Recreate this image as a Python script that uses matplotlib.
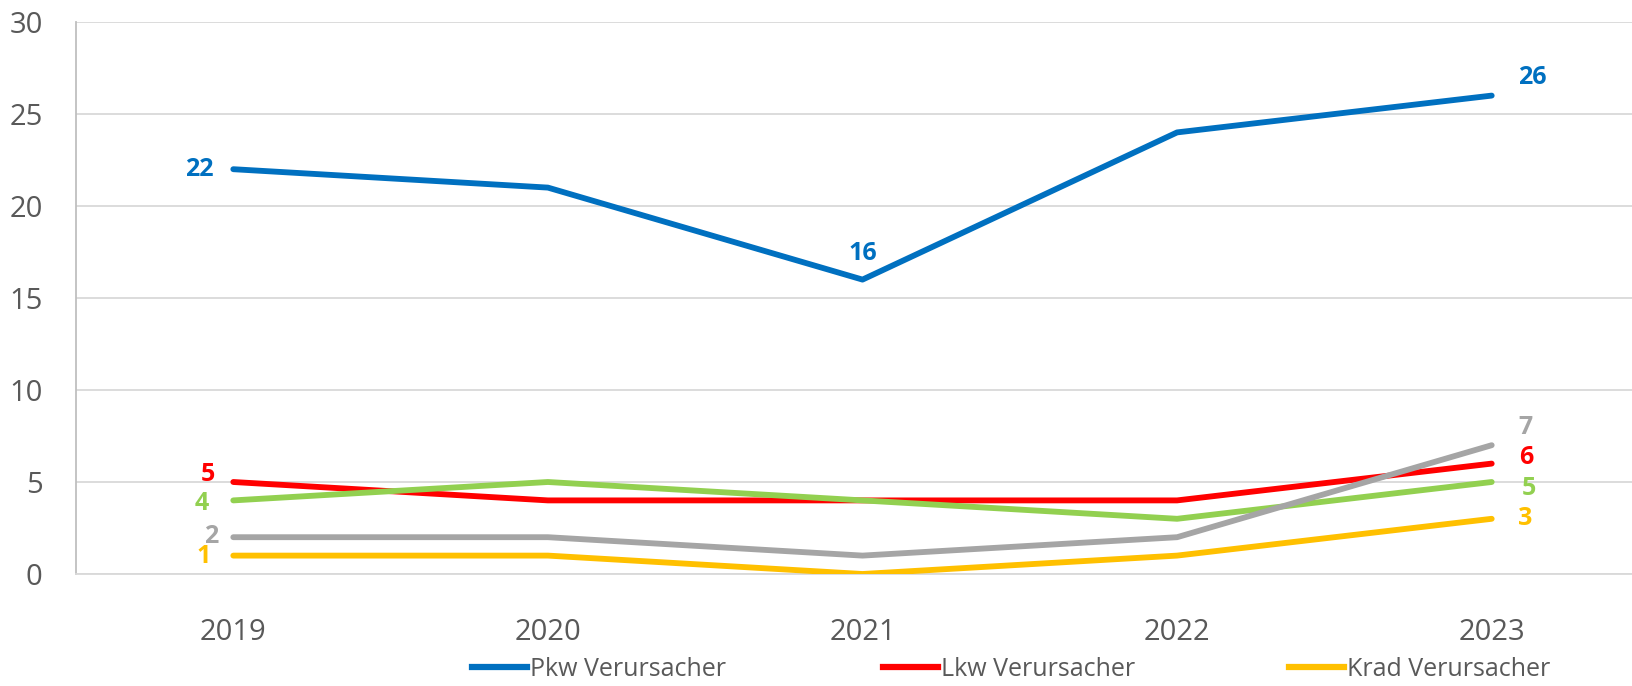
import matplotlib
matplotlib.use("Agg")
import matplotlib.pyplot as plt
from matplotlib.lines import Line2D

plt.rcParams['font.family'] = ['Open Sans', 'DejaVu Sans']

# Daten
jahre = ['2019', '2020', '2021', '2022', '2023']
pkw = [22, 21, 16, 24, 26]
lkw = [5, 4, 4, 4, 6]
krad = [1, 1, 0, 1, 3]
gruen = [4, 5, 4, 3, 5]
grau = [2, 2, 1, 2, 7]

serien = [
    ('Pkw Verursacher', pkw, '#0070C0'),
    ('Lkw Verursacher', lkw, '#FF0000'),
    ('Krad Verursacher', krad, '#FFC000'),
    ('Grün', gruen, '#92D050'),
    ('Grau', grau, '#A5A5A5'),
]

# Beschriftungs-Versatz (Pixel) fuer 2019 / 2021 / 2023
versatz = {
    'Pkw Verursacher': {0: (-20, 0, 'right'), 2: (0, 26, 'center'), 4: (41, 18, 'center')},
    'Lkw Verursacher': {0: (-25, 8, 'center'), 4: (35, 6, 'center')},
    'Krad Verursacher': {0: (-30, -1, 'center'), 4: (33, 0, 'center')},
    'Grün': {0: (-32, -3, 'center'), 4: (37, -6, 'center')},
    'Grau': {0: (-22, 1, 'center'), 4: (34, 18, 'center')},
}

fig = plt.figure(figsize=(16.33, 6.86), dpi=100)
ax = fig.add_axes([76 / 1633, 112 / 686, 1573 / 1633, 552 / 686])

x = range(len(jahre))
handles = {}
for name, werte, farbe in serien:
    ln, = ax.plot(x, werte, color=farbe, lw=4.2, solid_capstyle='round', zorder=3)
    handles[name] = ln
    for i, (dx, dy, ha) in versatz[name].items():
        ax.annotate(str(werte[i]), (i, werte[i]), xytext=(dx, dy),
                    textcoords='offset pixels', ha=ha, va='center',
                    color=farbe, fontsize=18, fontweight='bold')

ax.set_xlim(-0.5, 4.5)
ax.set_ylim(0, 30)
ax.set_yticks(range(0, 31, 5))
ax.set_xticks(list(x))
ax.set_xticklabels(jahre)
ax.grid(axis='y', color='#D9D9D9', lw=1.3)
ax.set_axisbelow(True)
for s in ['top', 'right']:
    ax.spines[s].set_visible(False)
ax.spines['left'].set_color('#BFBFBF')
ax.spines['bottom'].set_color('#D9D9D9')
ax.spines['left'].set_linewidth(1.3)
ax.spines['bottom'].set_linewidth(1.3)
ax.tick_params(length=0, labelsize=21, labelcolor='#595959')
ax.tick_params(axis='y', pad=24)
ax.tick_params(axis='x', pad=32)

# Legende (nur die sichtbaren Eintraege)
leg_x = [472, 883, 1289]
for name, lx in zip(['Pkw Verursacher', 'Lkw Verursacher', 'Krad Verursacher'], leg_x):
    h = Line2D([], [], color=handles[name].get_color(), lw=4.5)
    fig.legend([h], [name], loc='center left', bbox_to_anchor=(lx / 1633, 17 / 686),
               frameon=False, fontsize=18, handlelength=2.2, handletextpad=0.12,
               borderpad=0, borderaxespad=0, labelcolor='#595959')

fig.savefig('out.png', dpi=100)
